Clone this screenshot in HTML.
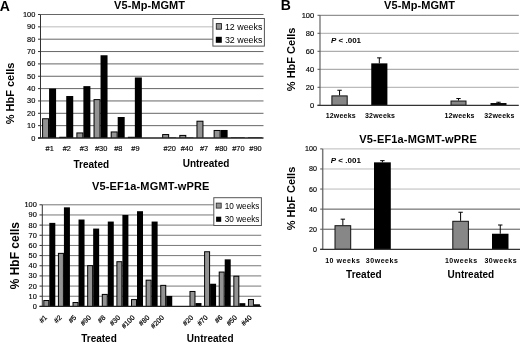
<!DOCTYPE html>
<html><head><meta charset="utf-8"><style>
html,body{margin:0;padding:0;background:#fff;}
body{width:520px;height:342px;overflow:hidden;}
svg{display:block;font-family:"Liberation Sans", sans-serif;filter:blur(0.3px);}
</style></head><body>
<svg width="520" height="342" viewBox="0 0 520 342">
<rect width="520" height="342" fill="#fff"/>
<line x1="40.50" y1="125.65" x2="263.50" y2="125.65" stroke="#666" stroke-width="1"/>
<line x1="40.50" y1="113.30" x2="263.50" y2="113.30" stroke="#666" stroke-width="1"/>
<line x1="40.50" y1="100.95" x2="263.50" y2="100.95" stroke="#666" stroke-width="1"/>
<line x1="40.50" y1="88.60" x2="263.50" y2="88.60" stroke="#666" stroke-width="1"/>
<line x1="40.50" y1="76.25" x2="263.50" y2="76.25" stroke="#666" stroke-width="1"/>
<line x1="40.50" y1="63.90" x2="263.50" y2="63.90" stroke="#666" stroke-width="1"/>
<line x1="40.50" y1="51.55" x2="263.50" y2="51.55" stroke="#666" stroke-width="1"/>
<line x1="40.50" y1="39.20" x2="263.50" y2="39.20" stroke="#666" stroke-width="1"/>
<line x1="40.50" y1="26.85" x2="263.50" y2="26.85" stroke="#bbb" stroke-width="1"/>
<line x1="40.50" y1="14.50" x2="263.50" y2="14.50" stroke="#666" stroke-width="1"/>
<rect x="42.08" y="118.24" width="7.00" height="19.76" fill="#000"/>
<rect x="43.08" y="119.24" width="5.00" height="18.76" fill="#939393"/>
<rect x="49.08" y="88.60" width="7.00" height="49.40" fill="#000"/>
<rect x="59.23" y="136.76" width="7.00" height="1.24" fill="#000"/>
<rect x="66.23" y="96.01" width="7.00" height="41.99" fill="#000"/>
<rect x="76.38" y="132.44" width="7.00" height="5.56" fill="#000"/>
<rect x="77.38" y="133.44" width="5.00" height="4.56" fill="#939393"/>
<rect x="83.38" y="86.13" width="7.00" height="51.87" fill="#000"/>
<rect x="93.54" y="99.10" width="7.00" height="38.90" fill="#000"/>
<rect x="94.54" y="100.10" width="5.00" height="37.90" fill="#939393"/>
<rect x="100.54" y="55.25" width="7.00" height="82.75" fill="#000"/>
<rect x="110.69" y="131.45" width="7.00" height="6.55" fill="#000"/>
<rect x="111.69" y="132.45" width="5.00" height="5.55" fill="#939393"/>
<rect x="117.69" y="117.00" width="7.00" height="21.00" fill="#000"/>
<rect x="127.85" y="136.76" width="7.00" height="1.24" fill="#000"/>
<rect x="134.85" y="77.48" width="7.00" height="60.52" fill="#000"/>
<rect x="162.15" y="134.05" width="7.00" height="3.95" fill="#000"/>
<rect x="163.15" y="135.05" width="5.00" height="2.95" fill="#939393"/>
<rect x="169.15" y="137.51" width="7.00" height="0.49" fill="#000"/>
<rect x="179.31" y="134.91" width="7.00" height="3.09" fill="#000"/>
<rect x="180.31" y="135.91" width="5.00" height="2.09" fill="#939393"/>
<rect x="186.31" y="137.51" width="7.00" height="0.49" fill="#000"/>
<rect x="196.46" y="120.71" width="7.00" height="17.29" fill="#000"/>
<rect x="197.46" y="121.71" width="5.00" height="16.29" fill="#939393"/>
<rect x="213.62" y="129.97" width="7.00" height="8.03" fill="#000"/>
<rect x="214.62" y="130.97" width="5.00" height="7.03" fill="#939393"/>
<rect x="220.62" y="129.97" width="7.00" height="8.03" fill="#000"/>
<rect x="230.77" y="137.38" width="7.00" height="0.62" fill="#000"/>
<rect x="237.77" y="137.38" width="7.00" height="0.62" fill="#000"/>
<rect x="247.92" y="137.38" width="7.00" height="0.62" fill="#000"/>
<rect x="254.92" y="137.38" width="7.00" height="0.62" fill="#000"/>
<line x1="40.50" y1="14.50" x2="40.50" y2="138.00" stroke="#333" stroke-width="1"/>
<line x1="38.00" y1="138.00" x2="40.50" y2="138.00" stroke="#333" stroke-width="1"/>
<text x="35.30" y="140.50" font-size="7.4" text-anchor="end" font-weight="normal" fill="#000" stroke="#000" stroke-width="0.15" style="">0</text>
<line x1="38.00" y1="125.65" x2="40.50" y2="125.65" stroke="#333" stroke-width="1"/>
<text x="35.30" y="128.15" font-size="7.4" text-anchor="end" font-weight="normal" fill="#000" stroke="#000" stroke-width="0.15" style="">10</text>
<line x1="38.00" y1="113.30" x2="40.50" y2="113.30" stroke="#333" stroke-width="1"/>
<text x="35.30" y="115.80" font-size="7.4" text-anchor="end" font-weight="normal" fill="#000" stroke="#000" stroke-width="0.15" style="">20</text>
<line x1="38.00" y1="100.95" x2="40.50" y2="100.95" stroke="#333" stroke-width="1"/>
<text x="35.30" y="103.45" font-size="7.4" text-anchor="end" font-weight="normal" fill="#000" stroke="#000" stroke-width="0.15" style="">30</text>
<line x1="38.00" y1="88.60" x2="40.50" y2="88.60" stroke="#333" stroke-width="1"/>
<text x="35.30" y="91.10" font-size="7.4" text-anchor="end" font-weight="normal" fill="#000" stroke="#000" stroke-width="0.15" style="">40</text>
<line x1="38.00" y1="76.25" x2="40.50" y2="76.25" stroke="#333" stroke-width="1"/>
<text x="35.30" y="78.75" font-size="7.4" text-anchor="end" font-weight="normal" fill="#000" stroke="#000" stroke-width="0.15" style="">50</text>
<line x1="38.00" y1="63.90" x2="40.50" y2="63.90" stroke="#333" stroke-width="1"/>
<text x="35.30" y="66.40" font-size="7.4" text-anchor="end" font-weight="normal" fill="#000" stroke="#000" stroke-width="0.15" style="">60</text>
<line x1="38.00" y1="51.55" x2="40.50" y2="51.55" stroke="#333" stroke-width="1"/>
<text x="35.30" y="54.05" font-size="7.4" text-anchor="end" font-weight="normal" fill="#000" stroke="#000" stroke-width="0.15" style="">70</text>
<line x1="38.00" y1="39.20" x2="40.50" y2="39.20" stroke="#333" stroke-width="1"/>
<text x="35.30" y="41.70" font-size="7.4" text-anchor="end" font-weight="normal" fill="#000" stroke="#000" stroke-width="0.15" style="">80</text>
<line x1="38.00" y1="26.85" x2="40.50" y2="26.85" stroke="#333" stroke-width="1"/>
<text x="35.30" y="29.35" font-size="7.4" text-anchor="end" font-weight="normal" fill="#000" stroke="#000" stroke-width="0.15" style="">90</text>
<line x1="38.00" y1="14.50" x2="40.50" y2="14.50" stroke="#333" stroke-width="1"/>
<text x="35.30" y="17.00" font-size="7.4" text-anchor="end" font-weight="normal" fill="#000" stroke="#000" stroke-width="0.15" style="">100</text>
<line x1="38.00" y1="138.00" x2="263.50" y2="138.00" stroke="#222" stroke-width="1.3"/>
<text x="49.68" y="151.40" font-size="7.4" text-anchor="middle" font-weight="normal" fill="#000" stroke="#000" stroke-width="0.15" style="">#1</text>
<text x="66.83" y="151.40" font-size="7.4" text-anchor="middle" font-weight="normal" fill="#000" stroke="#000" stroke-width="0.15" style="">#2</text>
<text x="83.98" y="151.40" font-size="7.4" text-anchor="middle" font-weight="normal" fill="#000" stroke="#000" stroke-width="0.15" style="">#3</text>
<text x="101.14" y="151.40" font-size="7.4" text-anchor="middle" font-weight="normal" fill="#000" stroke="#000" stroke-width="0.15" style="">#30</text>
<text x="118.29" y="151.40" font-size="7.4" text-anchor="middle" font-weight="normal" fill="#000" stroke="#000" stroke-width="0.15" style="">#8</text>
<text x="135.45" y="151.40" font-size="7.4" text-anchor="middle" font-weight="normal" fill="#000" stroke="#000" stroke-width="0.15" style="">#9</text>
<text x="169.75" y="151.40" font-size="7.4" text-anchor="middle" font-weight="normal" fill="#000" stroke="#000" stroke-width="0.15" style="">#20</text>
<text x="186.91" y="151.40" font-size="7.4" text-anchor="middle" font-weight="normal" fill="#000" stroke="#000" stroke-width="0.15" style="">#40</text>
<text x="204.06" y="151.40" font-size="7.4" text-anchor="middle" font-weight="normal" fill="#000" stroke="#000" stroke-width="0.15" style="">#7</text>
<text x="221.22" y="151.40" font-size="7.4" text-anchor="middle" font-weight="normal" fill="#000" stroke="#000" stroke-width="0.15" style="">#80</text>
<text x="238.37" y="151.40" font-size="7.4" text-anchor="middle" font-weight="normal" fill="#000" stroke="#000" stroke-width="0.15" style="">#70</text>
<text x="255.52" y="151.40" font-size="7.4" text-anchor="middle" font-weight="normal" fill="#000" stroke="#000" stroke-width="0.15" style="">#90</text>
<text x="91.30" y="167.50" font-size="10" text-anchor="middle" font-weight="bold" fill="#000"  style="">Treated</text>
<text x="206.00" y="167.10" font-size="10" text-anchor="middle" font-weight="bold" fill="#000"  style="">Untreated</text>
<text x="149.60" y="8.70" font-size="11" text-anchor="middle" font-weight="bold" fill="#000"  style="letter-spacing:0.08px">V5-Mp-MGMT</text>
<text transform="translate(13.8,93.4) rotate(-90)" font-size="11" font-weight="bold" text-anchor="middle">% HbF cells</text>
<rect x="212.90" y="18.50" width="51.50" height="27.60" fill="#fff" stroke="#555" stroke-width="1"/>
<rect x="216.30" y="23.60" width="5.20" height="5.60" fill="#939393" stroke="#222" stroke-width="0.9"/>
<rect x="215.80" y="36.80" width="6.00" height="6.00" fill="#000"/>
<text x="224.90" y="29.50" font-size="8.9" text-anchor="start" font-weight="normal" fill="#000"  style="">12 weeks</text>
<text x="224.90" y="43.10" font-size="8.9" text-anchor="start" font-weight="normal" fill="#000"  style="">32 weeks</text>
<line x1="42.00" y1="296.24" x2="261.25" y2="296.24" stroke="#777" stroke-width="1"/>
<line x1="42.00" y1="286.08" x2="261.25" y2="286.08" stroke="#777" stroke-width="1"/>
<line x1="42.00" y1="275.92" x2="261.25" y2="275.92" stroke="#777" stroke-width="1"/>
<line x1="42.00" y1="265.76" x2="261.25" y2="265.76" stroke="#777" stroke-width="1"/>
<line x1="42.00" y1="255.60" x2="261.25" y2="255.60" stroke="#777" stroke-width="1"/>
<line x1="42.00" y1="245.44" x2="261.25" y2="245.44" stroke="#777" stroke-width="1"/>
<line x1="42.00" y1="235.28" x2="261.25" y2="235.28" stroke="#777" stroke-width="1"/>
<line x1="42.00" y1="225.12" x2="261.25" y2="225.12" stroke="#777" stroke-width="1"/>
<line x1="42.00" y1="214.96" x2="261.25" y2="214.96" stroke="#777" stroke-width="1"/>
<line x1="42.00" y1="204.80" x2="261.25" y2="204.80" stroke="#777" stroke-width="1"/>
<rect x="43.31" y="300.00" width="6.00" height="6.40" fill="#000"/>
<rect x="44.31" y="301.00" width="4.00" height="5.40" fill="#939393"/>
<rect x="49.31" y="222.88" width="6.00" height="83.52" fill="#000"/>
<rect x="57.92" y="252.86" width="6.00" height="53.54" fill="#000"/>
<rect x="58.92" y="253.86" width="4.00" height="52.54" fill="#939393"/>
<rect x="63.92" y="207.34" width="6.00" height="99.06" fill="#000"/>
<rect x="72.54" y="302.03" width="6.00" height="4.37" fill="#000"/>
<rect x="73.54" y="303.03" width="4.00" height="3.37" fill="#939393"/>
<rect x="78.54" y="219.53" width="6.00" height="86.87" fill="#000"/>
<rect x="87.16" y="265.15" width="6.00" height="41.25" fill="#000"/>
<rect x="88.16" y="266.15" width="4.00" height="40.25" fill="#939393"/>
<rect x="93.16" y="228.57" width="6.00" height="77.83" fill="#000"/>
<rect x="101.78" y="293.90" width="6.00" height="12.50" fill="#000"/>
<rect x="102.78" y="294.90" width="4.00" height="11.50" fill="#939393"/>
<rect x="107.78" y="221.56" width="6.00" height="84.84" fill="#000"/>
<rect x="116.39" y="261.19" width="6.00" height="45.21" fill="#000"/>
<rect x="117.39" y="262.19" width="4.00" height="44.21" fill="#939393"/>
<rect x="122.39" y="214.96" width="6.00" height="91.44" fill="#000"/>
<rect x="131.01" y="299.08" width="6.00" height="7.32" fill="#000"/>
<rect x="132.01" y="300.08" width="4.00" height="6.32" fill="#939393"/>
<rect x="137.01" y="211.20" width="6.00" height="95.20" fill="#000"/>
<rect x="145.62" y="279.68" width="6.00" height="26.72" fill="#000"/>
<rect x="146.62" y="280.68" width="4.00" height="25.72" fill="#939393"/>
<rect x="151.62" y="221.56" width="6.00" height="84.84" fill="#000"/>
<rect x="160.24" y="284.86" width="6.00" height="21.54" fill="#000"/>
<rect x="161.24" y="285.86" width="4.00" height="20.54" fill="#939393"/>
<rect x="166.24" y="295.94" width="6.00" height="10.46" fill="#000"/>
<rect x="189.48" y="290.96" width="6.00" height="15.44" fill="#000"/>
<rect x="190.48" y="291.96" width="4.00" height="14.44" fill="#939393"/>
<rect x="195.48" y="303.05" width="6.00" height="3.35" fill="#000"/>
<rect x="204.09" y="251.23" width="6.00" height="55.17" fill="#000"/>
<rect x="205.09" y="252.23" width="4.00" height="54.17" fill="#939393"/>
<rect x="210.09" y="283.74" width="6.00" height="22.66" fill="#000"/>
<rect x="218.71" y="271.55" width="6.00" height="34.85" fill="#000"/>
<rect x="219.71" y="272.55" width="4.00" height="33.85" fill="#939393"/>
<rect x="224.71" y="259.36" width="6.00" height="47.04" fill="#000"/>
<rect x="233.33" y="275.72" width="6.00" height="30.68" fill="#000"/>
<rect x="234.33" y="276.72" width="4.00" height="29.68" fill="#939393"/>
<rect x="239.33" y="303.15" width="6.00" height="3.25" fill="#000"/>
<rect x="247.94" y="298.98" width="6.00" height="7.42" fill="#000"/>
<rect x="248.94" y="299.98" width="4.00" height="6.42" fill="#939393"/>
<rect x="253.94" y="304.27" width="6.00" height="2.13" fill="#000"/>
<line x1="42.30" y1="204.80" x2="42.30" y2="306.40" stroke="#333" stroke-width="1"/>
<line x1="39.50" y1="306.40" x2="42.00" y2="306.40" stroke="#333" stroke-width="1"/>
<text x="36.80" y="308.90" font-size="7.4" text-anchor="end" font-weight="normal" fill="#000" stroke="#000" stroke-width="0.15" style="">0</text>
<line x1="39.50" y1="296.24" x2="42.00" y2="296.24" stroke="#333" stroke-width="1"/>
<text x="36.80" y="298.74" font-size="7.4" text-anchor="end" font-weight="normal" fill="#000" stroke="#000" stroke-width="0.15" style="">10</text>
<line x1="39.50" y1="286.08" x2="42.00" y2="286.08" stroke="#333" stroke-width="1"/>
<text x="36.80" y="288.58" font-size="7.4" text-anchor="end" font-weight="normal" fill="#000" stroke="#000" stroke-width="0.15" style="">20</text>
<line x1="39.50" y1="275.92" x2="42.00" y2="275.92" stroke="#333" stroke-width="1"/>
<text x="36.80" y="278.42" font-size="7.4" text-anchor="end" font-weight="normal" fill="#000" stroke="#000" stroke-width="0.15" style="">30</text>
<line x1="39.50" y1="265.76" x2="42.00" y2="265.76" stroke="#333" stroke-width="1"/>
<text x="36.80" y="268.26" font-size="7.4" text-anchor="end" font-weight="normal" fill="#000" stroke="#000" stroke-width="0.15" style="">40</text>
<line x1="39.50" y1="255.60" x2="42.00" y2="255.60" stroke="#333" stroke-width="1"/>
<text x="36.80" y="258.10" font-size="7.4" text-anchor="end" font-weight="normal" fill="#000" stroke="#000" stroke-width="0.15" style="">50</text>
<line x1="39.50" y1="245.44" x2="42.00" y2="245.44" stroke="#333" stroke-width="1"/>
<text x="36.80" y="247.94" font-size="7.4" text-anchor="end" font-weight="normal" fill="#000" stroke="#000" stroke-width="0.15" style="">60</text>
<line x1="39.50" y1="235.28" x2="42.00" y2="235.28" stroke="#333" stroke-width="1"/>
<text x="36.80" y="237.78" font-size="7.4" text-anchor="end" font-weight="normal" fill="#000" stroke="#000" stroke-width="0.15" style="">70</text>
<line x1="39.50" y1="225.12" x2="42.00" y2="225.12" stroke="#333" stroke-width="1"/>
<text x="36.80" y="227.62" font-size="7.4" text-anchor="end" font-weight="normal" fill="#000" stroke="#000" stroke-width="0.15" style="">80</text>
<line x1="39.50" y1="214.96" x2="42.00" y2="214.96" stroke="#333" stroke-width="1"/>
<text x="36.80" y="217.46" font-size="7.4" text-anchor="end" font-weight="normal" fill="#000" stroke="#000" stroke-width="0.15" style="">90</text>
<line x1="39.50" y1="204.80" x2="42.00" y2="204.80" stroke="#333" stroke-width="1"/>
<text x="36.80" y="207.30" font-size="7.4" text-anchor="end" font-weight="normal" fill="#000" stroke="#000" stroke-width="0.15" style="">100</text>
<line x1="39.50" y1="306.40" x2="261.25" y2="306.40" stroke="#222" stroke-width="1.3"/>
<text transform="translate(45.81,316.30) rotate(-45)" font-size="7" text-anchor="end" fill="#000" stroke="#000" stroke-width="0.2" dy="2.5">#1</text>
<text transform="translate(60.42,316.30) rotate(-45)" font-size="7" text-anchor="end" fill="#000" stroke="#000" stroke-width="0.2" dy="2.5">#2</text>
<text transform="translate(75.04,316.30) rotate(-45)" font-size="7" text-anchor="end" fill="#000" stroke="#000" stroke-width="0.2" dy="2.5">#5</text>
<text transform="translate(89.66,316.30) rotate(-45)" font-size="7" text-anchor="end" fill="#000" stroke="#000" stroke-width="0.2" dy="2.5">#90</text>
<text transform="translate(104.28,316.30) rotate(-45)" font-size="7" text-anchor="end" fill="#000" stroke="#000" stroke-width="0.2" dy="2.5">#8</text>
<text transform="translate(118.89,316.30) rotate(-45)" font-size="7" text-anchor="end" fill="#000" stroke="#000" stroke-width="0.2" dy="2.5">#30</text>
<text transform="translate(133.51,316.30) rotate(-45)" font-size="7" text-anchor="end" fill="#000" stroke="#000" stroke-width="0.2" dy="2.5">#100</text>
<text transform="translate(148.12,316.30) rotate(-45)" font-size="7" text-anchor="end" fill="#000" stroke="#000" stroke-width="0.2" dy="2.5">#80</text>
<text transform="translate(162.74,316.30) rotate(-45)" font-size="7" text-anchor="end" fill="#000" stroke="#000" stroke-width="0.2" dy="2.5">#200</text>
<text transform="translate(191.97,316.30) rotate(-45)" font-size="7" text-anchor="end" fill="#000" stroke="#000" stroke-width="0.2" dy="2.5">#20</text>
<text transform="translate(206.59,316.30) rotate(-45)" font-size="7" text-anchor="end" fill="#000" stroke="#000" stroke-width="0.2" dy="2.5">#70</text>
<text transform="translate(221.21,316.30) rotate(-45)" font-size="7" text-anchor="end" fill="#000" stroke="#000" stroke-width="0.2" dy="2.5">#6</text>
<text transform="translate(235.83,316.30) rotate(-45)" font-size="7" text-anchor="end" fill="#000" stroke="#000" stroke-width="0.2" dy="2.5">#50</text>
<text transform="translate(250.44,316.30) rotate(-45)" font-size="7" text-anchor="end" fill="#000" stroke="#000" stroke-width="0.2" dy="2.5">#40</text>
<text x="99.00" y="342.10" font-size="10" text-anchor="middle" font-weight="bold" fill="#000"  style="">Treated</text>
<text x="210.20" y="342.40" font-size="10" text-anchor="middle" font-weight="bold" fill="#000"  style="">Untreated</text>
<text x="150.80" y="190.30" font-size="11" text-anchor="middle" font-weight="bold" fill="#000"  style="letter-spacing:0.16px">V5-EF1a-MGMT-wPRE</text>
<text transform="translate(18.5,255.7) rotate(-90)" font-size="12" font-weight="bold" text-anchor="middle">% HbF cells</text>
<rect x="213.80" y="197.70" width="47.60" height="27.80" fill="#fff" stroke="#555" stroke-width="1"/>
<rect x="216.20" y="203.10" width="5.00" height="5.00" fill="#939393" stroke="#222" stroke-width="0.8"/>
<rect x="216.10" y="216.70" width="5.10" height="5.10" fill="#000"/>
<text x="224.80" y="208.50" font-size="8.2" text-anchor="start" font-weight="normal" fill="#000"  style="">10 weeks</text>
<text x="224.80" y="222.20" font-size="8.2" text-anchor="start" font-weight="normal" fill="#000"  style="">30 weeks</text>
<text x="-0.20" y="10.50" font-size="14" text-anchor="start" font-weight="bold" fill="#000"  style="">A</text>
<text x="280.80" y="10.45" font-size="14" text-anchor="start" font-weight="bold" fill="#000"  style="">B</text>
<line x1="320.00" y1="87.30" x2="518.80" y2="87.30" stroke="#aaa" stroke-width="1"/>
<line x1="320.00" y1="69.30" x2="518.80" y2="69.30" stroke="#999" stroke-width="1"/>
<line x1="320.00" y1="51.30" x2="518.80" y2="51.30" stroke="#999" stroke-width="1"/>
<line x1="320.00" y1="33.30" x2="518.80" y2="33.30" stroke="#aaa" stroke-width="1"/>
<line x1="320.00" y1="15.30" x2="518.80" y2="15.30" stroke="#777" stroke-width="1"/>
<rect x="331.90" y="95.90" width="15.30" height="9.40" fill="#878787" stroke="#111" stroke-width="1"/>
<line x1="339.55" y1="90.27" x2="339.55" y2="95.40" stroke="#000" stroke-width="1"/>
<line x1="337.35" y1="90.27" x2="341.75" y2="90.27" stroke="#000" stroke-width="1"/>
<rect x="371.25" y="63.36" width="16.15" height="41.94" fill="#000"/>
<line x1="379.32" y1="57.87" x2="379.32" y2="63.36" stroke="#000" stroke-width="1"/>
<line x1="377.12" y1="57.87" x2="381.52" y2="57.87" stroke="#000" stroke-width="1"/>
<rect x="451.00" y="101.03" width="15.00" height="4.27" fill="#878787" stroke="#111" stroke-width="1"/>
<line x1="458.50" y1="98.55" x2="458.50" y2="100.53" stroke="#000" stroke-width="1"/>
<line x1="456.30" y1="98.55" x2="460.70" y2="98.55" stroke="#000" stroke-width="1"/>
<rect x="490.50" y="103.05" width="16.00" height="2.25" fill="#000"/>
<line x1="498.50" y1="102.24" x2="498.50" y2="103.05" stroke="#000" stroke-width="1"/>
<line x1="496.30" y1="102.24" x2="500.70" y2="102.24" stroke="#000" stroke-width="1"/>
<line x1="320.00" y1="15.30" x2="320.00" y2="105.30" stroke="#555" stroke-width="1.1"/>
<line x1="317.50" y1="105.30" x2="320.00" y2="105.30" stroke="#555" stroke-width="1"/>
<text x="314.20" y="107.80" font-size="7.5" text-anchor="end" font-weight="normal" fill="#000" stroke="#000" stroke-width="0.15" style="">0</text>
<line x1="317.50" y1="87.30" x2="320.00" y2="87.30" stroke="#555" stroke-width="1"/>
<text x="314.20" y="89.80" font-size="7.5" text-anchor="end" font-weight="normal" fill="#000" stroke="#000" stroke-width="0.15" style="">20</text>
<line x1="317.50" y1="69.30" x2="320.00" y2="69.30" stroke="#555" stroke-width="1"/>
<text x="314.20" y="71.80" font-size="7.5" text-anchor="end" font-weight="normal" fill="#000" stroke="#000" stroke-width="0.15" style="">40</text>
<line x1="317.50" y1="51.30" x2="320.00" y2="51.30" stroke="#555" stroke-width="1"/>
<text x="314.20" y="53.80" font-size="7.5" text-anchor="end" font-weight="normal" fill="#000" stroke="#000" stroke-width="0.15" style="">60</text>
<line x1="317.50" y1="33.30" x2="320.00" y2="33.30" stroke="#555" stroke-width="1"/>
<text x="314.20" y="35.80" font-size="7.5" text-anchor="end" font-weight="normal" fill="#000" stroke="#000" stroke-width="0.15" style="">80</text>
<line x1="317.50" y1="15.30" x2="320.00" y2="15.30" stroke="#555" stroke-width="1"/>
<text x="314.20" y="17.80" font-size="7.5" text-anchor="end" font-weight="normal" fill="#000" stroke="#000" stroke-width="0.15" style="">100</text>
<line x1="317.50" y1="105.30" x2="518.80" y2="105.30" stroke="#333" stroke-width="1.2"/>
<text x="340.75" y="118.20" font-size="7" text-anchor="middle" font-weight="bold" fill="#000"  style="letter-spacing:0.2px">12weeks</text>
<text x="380.10" y="118.20" font-size="7" text-anchor="middle" font-weight="bold" fill="#000"  style="letter-spacing:0.2px">32weeks</text>
<text x="459.50" y="118.20" font-size="7" text-anchor="middle" font-weight="bold" fill="#000"  style="letter-spacing:0.2px">12weeks</text>
<text x="499.40" y="118.20" font-size="7" text-anchor="middle" font-weight="bold" fill="#000"  style="letter-spacing:0.2px">32weeks</text>
<text x="419.60" y="8.70" font-size="11" text-anchor="middle" font-weight="bold" fill="#000"  style="letter-spacing:0.08px">V5-Mp-MGMT</text>
<text transform="translate(295,59.4) rotate(-90)" font-size="11" font-weight="bold" text-anchor="middle">% HbF Cells</text>
<text x="331" y="42.6" font-size="8" font-weight="bold"><tspan font-style="italic">P</tspan> &lt; .001</text>
<line x1="322.70" y1="229.22" x2="520.00" y2="229.22" stroke="#555" stroke-width="1"/>
<line x1="322.70" y1="209.14" x2="520.00" y2="209.14" stroke="#555" stroke-width="1"/>
<line x1="322.70" y1="189.06" x2="520.00" y2="189.06" stroke="#bbb" stroke-width="1"/>
<line x1="322.70" y1="168.98" x2="520.00" y2="168.98" stroke="#bbb" stroke-width="1"/>
<line x1="322.70" y1="148.90" x2="520.00" y2="148.90" stroke="#bbb" stroke-width="1"/>
<rect x="335.00" y="225.70" width="15.70" height="23.60" fill="#878787" stroke="#111" stroke-width="1"/>
<line x1="342.85" y1="219.18" x2="342.85" y2="225.20" stroke="#000" stroke-width="1"/>
<line x1="340.65" y1="219.18" x2="345.05" y2="219.18" stroke="#000" stroke-width="1"/>
<rect x="374.00" y="162.35" width="16.80" height="86.95" fill="#000"/>
<line x1="382.40" y1="160.65" x2="382.40" y2="162.35" stroke="#000" stroke-width="1"/>
<line x1="380.20" y1="160.65" x2="384.60" y2="160.65" stroke="#000" stroke-width="1"/>
<rect x="452.80" y="221.29" width="15.60" height="28.01" fill="#878787" stroke="#111" stroke-width="1"/>
<line x1="460.60" y1="212.25" x2="460.60" y2="220.79" stroke="#000" stroke-width="1"/>
<line x1="458.40" y1="212.25" x2="462.80" y2="212.25" stroke="#000" stroke-width="1"/>
<rect x="492.00" y="233.74" width="16.50" height="15.56" fill="#000"/>
<line x1="500.25" y1="225.00" x2="500.25" y2="233.74" stroke="#000" stroke-width="1"/>
<line x1="498.05" y1="225.00" x2="502.45" y2="225.00" stroke="#000" stroke-width="1"/>
<line x1="322.70" y1="148.90" x2="322.70" y2="249.30" stroke="#777" stroke-width="1.5"/>
<line x1="320.20" y1="249.30" x2="322.70" y2="249.30" stroke="#555" stroke-width="1"/>
<text x="316.90" y="251.80" font-size="7.1" text-anchor="end" font-weight="normal" fill="#000" stroke="#000" stroke-width="0.15" style="">0</text>
<line x1="320.20" y1="229.22" x2="322.70" y2="229.22" stroke="#555" stroke-width="1"/>
<text x="316.90" y="231.72" font-size="7.1" text-anchor="end" font-weight="normal" fill="#000" stroke="#000" stroke-width="0.15" style="">20</text>
<line x1="320.20" y1="209.14" x2="322.70" y2="209.14" stroke="#555" stroke-width="1"/>
<text x="316.90" y="211.64" font-size="7.1" text-anchor="end" font-weight="normal" fill="#000" stroke="#000" stroke-width="0.15" style="">40</text>
<line x1="320.20" y1="189.06" x2="322.70" y2="189.06" stroke="#555" stroke-width="1"/>
<text x="316.90" y="191.56" font-size="7.1" text-anchor="end" font-weight="normal" fill="#000" stroke="#000" stroke-width="0.15" style="">60</text>
<line x1="320.20" y1="168.98" x2="322.70" y2="168.98" stroke="#555" stroke-width="1"/>
<text x="316.90" y="171.48" font-size="7.1" text-anchor="end" font-weight="normal" fill="#000" stroke="#000" stroke-width="0.15" style="">80</text>
<line x1="320.20" y1="148.90" x2="322.70" y2="148.90" stroke="#555" stroke-width="1"/>
<text x="316.90" y="151.40" font-size="7.1" text-anchor="end" font-weight="normal" fill="#000" stroke="#000" stroke-width="0.15" style="">100</text>
<line x1="320.20" y1="249.30" x2="520.00" y2="249.30" stroke="#333" stroke-width="1.2"/>
<text x="342.75" y="262.60" font-size="7" text-anchor="middle" font-weight="bold" fill="#000"  style="letter-spacing:0.55px">10 weeks</text>
<text x="382.10" y="262.60" font-size="7" text-anchor="middle" font-weight="bold" fill="#000"  style="letter-spacing:0.55px">30weeks</text>
<text x="461.25" y="262.60" font-size="7" text-anchor="middle" font-weight="bold" fill="#000"  style="letter-spacing:0.55px">10weeks</text>
<text x="500.75" y="262.60" font-size="7" text-anchor="middle" font-weight="bold" fill="#000"  style="letter-spacing:0.55px">30weeks</text>
<text x="418.10" y="142.80" font-size="11" text-anchor="middle" font-weight="bold" fill="#000"  style="letter-spacing:0.16px">V5-EF1a-MGMT-wPRE</text>
<text transform="translate(295,198.5) rotate(-90)" font-size="11" font-weight="bold" text-anchor="middle">% HbF Cells</text>
<text x="330.8" y="162.6" font-size="8" font-weight="bold"><tspan font-style="italic">P</tspan> &lt; .001</text>
<text x="363.90" y="278.00" font-size="10" text-anchor="middle" font-weight="bold" fill="#000"  style="">Treated</text>
<text x="470.90" y="278.10" font-size="10" text-anchor="middle" font-weight="bold" fill="#000"  style="">Untreated</text>
</svg>
</body></html>
